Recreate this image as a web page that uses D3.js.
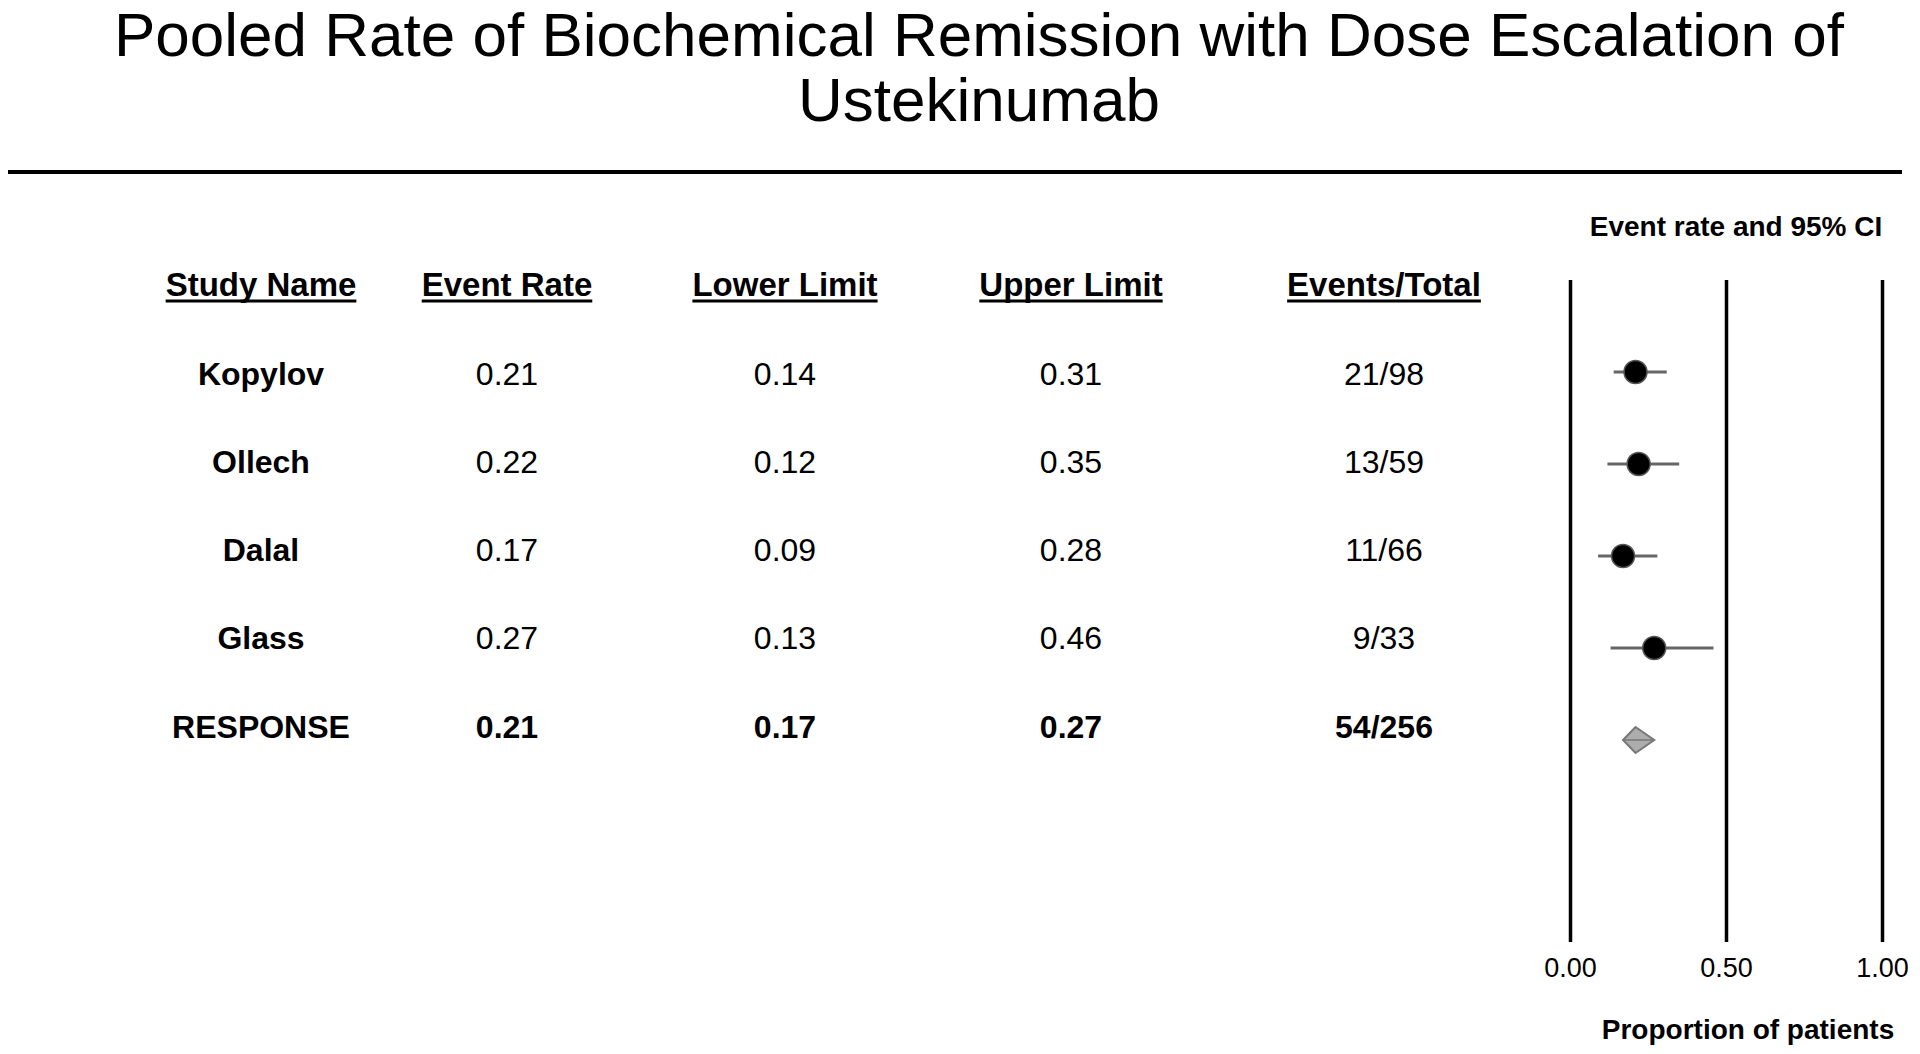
<!DOCTYPE html>
<html>
<head>
<meta charset="utf-8">
<script src="https://cdn.jsdelivr.net/npm/d3@7"></script>
<style>
  html, body { margin: 0; padding: 0; background: #fff; }
  svg { display: block; }
  text { font-family: "Liberation Sans", Arial, Helvetica, sans-serif; fill: #000; }
</style>
</head>
<body>
<svg id="chart" width="1920" height="1054"></svg>
<script>
// ---- Data ----
const titleLines = ["Pooled Rate of Biochemical Remission with Dose Escalation of", "Ustekinumab"];
const columns = ["Study Name", "Event Rate", "Lower Limit", "Upper Limit", "Events/Total"];
const studies = ["Kopylov", "Ollech", "Dalal", "Glass", "RESPONSE"];
const eventRate = [0.21, 0.22, 0.17, 0.27, 0.21];
const lowerLimit = [0.14, 0.12, 0.09, 0.13, 0.17];
const upperLimit = [0.31, 0.35, 0.28, 0.46, 0.27];
const eventsTotal = ["21/98", "13/59", "11/66", "9/33", "54/256"];
const summaryStudy = "RESPONSE";
const xTicks = [0, 0.5, 1];
const plotTitle = "Event rate and 95% CI";
const xAxisLabel = "Proportion of patients";

const rows = studies.map((s, i) => ({
  study: s, rate: eventRate[i], lo: lowerLimit[i], hi: upperLimit[i], et: eventsTotal[i],
  summary: s === summaryStudy
}));

const svg = d3.select("#chart");
const fmt = d3.format(".2f");

// ---- Title ----
svg.append("g").selectAll("text").data(titleLines).join("text")
  .attr("x", 979).attr("y", (d, i) => 56 + i * 65)
  .attr("text-anchor", "middle").attr("font-size", 62)
  .text(d => d);

svg.append("line").attr("x1", 8).attr("x2", 1902).attr("y1", 172).attr("y2", 172)
  .attr("stroke", "#000").attr("stroke-width", 4);

// ---- Table ----
const colCenters = d3.scaleOrdinal().domain(columns).range([261, 507, 785, 1071, 1384]);
const rowY = d3.scalePoint().domain(studies).range([385, 737.6]);

const header = svg.append("g");
header.selectAll("text").data(columns).join("text")
  .attr("x", d => colCenters(d)).attr("y", 296)
  .attr("text-anchor", "middle").attr("font-size", 33).attr("font-weight", "bold")
  .text(d => d)
  .each(function () {
    const b = this.getBBox();
    header.append("line").attr("x1", b.x).attr("x2", b.x + b.width)
      .attr("y1", 301).attr("y2", 301).attr("stroke", "#000").attr("stroke-width", 3);
  });

const cellAccessors = [d => d.study, d => fmt(d.rate), d => fmt(d.lo), d => fmt(d.hi), d => d.et];
const table = svg.append("g");
rows.forEach(r => {
  columns.forEach((c, j) => {
    table.append("text")
      .attr("x", colCenters(c)).attr("y", rowY(r.study))
      .attr("text-anchor", "middle").attr("font-size", 32)
      .attr("font-weight", (j === 0 || r.summary) ? "bold" : "normal")
      .text(cellAccessors[j](r));
  });
});

// ---- Forest plot ----
const x = d3.scaleLinear().domain([0, 1]).range([1570, 1882]);
const yTop = 280, yBot = 942;
const yMark = d3.scalePoint().domain(studies).range([372, 740]);

svg.append("text").attr("x", 1736).attr("y", 236).attr("text-anchor", "middle")
  .attr("font-size", 28).attr("font-weight", "bold").text(plotTitle);

const axis = d3.axisBottom(x).tickValues(xTicks).tickFormat(fmt)
  .tickSizeInner(-(yBot - yTop)).tickSizeOuter(0).tickPadding(16);
const ax = svg.append("g").attr("transform", `translate(0,${yBot})`).call(axis);
ax.select(".domain").remove();
ax.selectAll(".tick line").attr("stroke", "#000").attr("stroke-width", 3.5);
ax.selectAll(".tick text").attr("font-size", 27).attr("fill", "#000")
  .attr("font-family", "'Liberation Sans', Arial, Helvetica, sans-serif");

svg.append("text").attr("x", 1748).attr("y", 1039).attr("text-anchor", "middle")
  .attr("font-size", 28).attr("font-weight", "bold").text(xAxisLabel);

const marks = svg.append("g");
const studyRows = rows.filter(r => !r.summary);
const sumRows = rows.filter(r => r.summary);

marks.selectAll("line.ci").data(studyRows).join("line").attr("class", "ci")
  .attr("x1", d => x(d.lo)).attr("x2", d => x(d.hi))
  .attr("y1", d => yMark(d.study)).attr("y2", d => yMark(d.study))
  .attr("stroke", "#666").attr("stroke-width", 2.8);

marks.selectAll("circle").data(studyRows).join("circle")
  .attr("cx", d => x(d.rate)).attr("cy", d => yMark(d.study)).attr("r", 11.5)
  .attr("fill", "#000").attr("stroke", "#555").attr("stroke-width", 1.5);

marks.selectAll("path.diamond").data(sumRows).join("path").attr("class", "diamond")
  .attr("d", d => {
    const cy = yMark(d.study), h = 13;
    return `M${x(d.lo)},${cy}L${x(d.rate)},${cy - h}L${x(d.hi)},${cy}L${x(d.rate)},${cy + h}Z`;
  })
  .attr("fill", "#adadad").attr("stroke", "#777").attr("stroke-width", 2);

marks.selectAll("line.sumci").data(sumRows).join("line").attr("class", "sumci")
  .attr("x1", d => x(d.lo)).attr("x2", d => x(d.hi))
  .attr("y1", d => yMark(d.study)).attr("y2", d => yMark(d.study))
  .attr("stroke", "#777").attr("stroke-width", 1.5);
</script>
</body>
</html>
